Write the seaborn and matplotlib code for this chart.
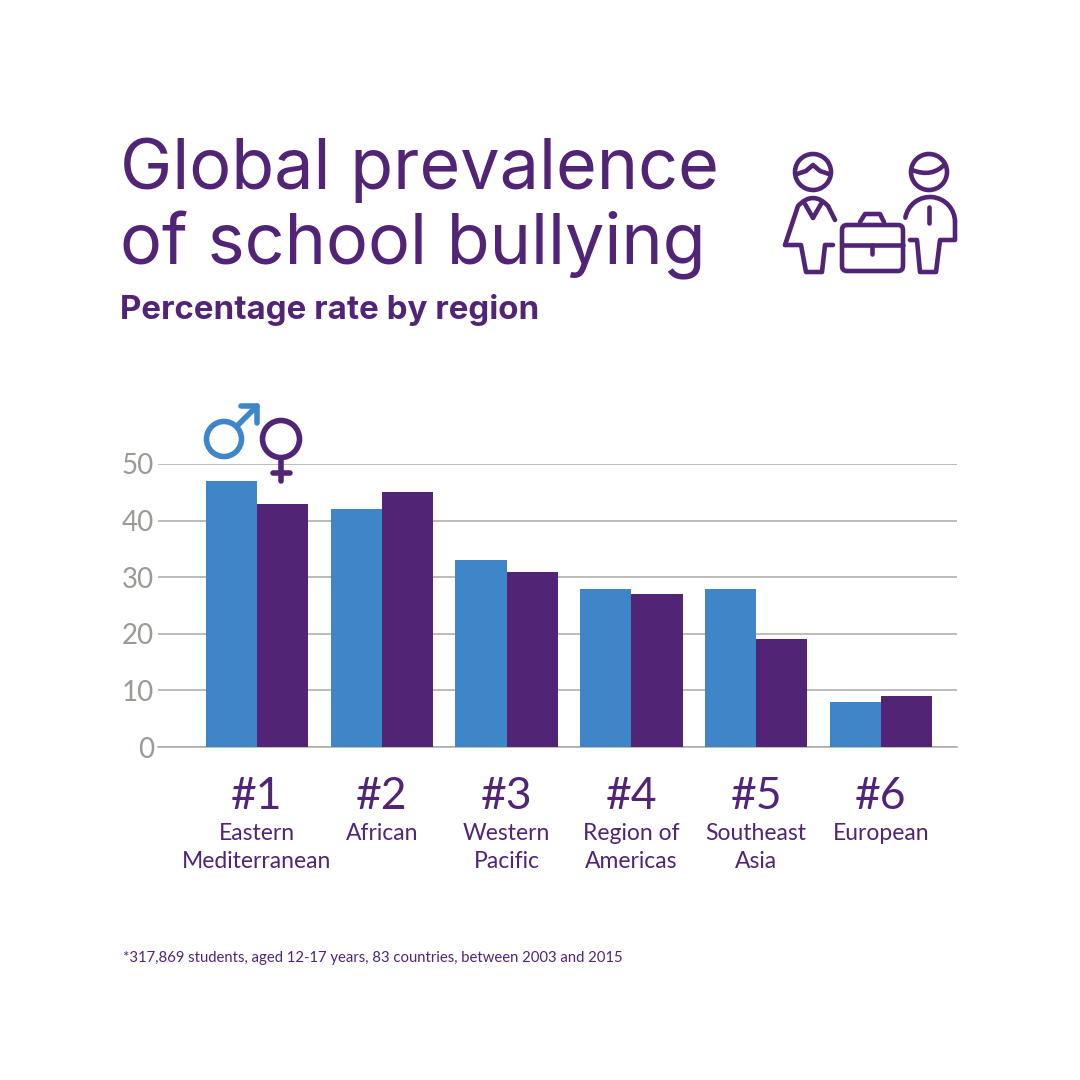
import pandas as pd
import matplotlib.pyplot as plt
import seaborn as sns
from matplotlib.patches import Arc, Circle, FancyBboxPatch, PathPatch
from matplotlib.path import Path

# School bullying data
data = {
    "region": ["Eastern\nMediterranean", "African", "Western\nPacific", "Region of\nAmericas", "Southeast\nAsia", "European"] * 2,
    "gender": ["Male"] * 6 + ["Female"] * 6,
    "rate": [47, 42, 33, 28, 28, 8, 43, 45, 31, 27, 19, 9]
}

# Create DataFrame
bullying_df = pd.DataFrame(data)
regions = bullying_df['region'].unique()

# Colors
purple = "#512476"
blue = "#3f86c8"
grey = "#9b9a94"

sns.set_style("white")
plt.rcParams['font.family'] = ['Lato', 'DejaVu Sans']

# Visualization
fig = plt.figure(figsize=(10.8, 10.8), dpi=100)
ax = plt.axes([158 / 1080, 333 / 1080, 799 / 1080, 283 / 1080])
sns.barplot(data=bullying_df, x="region", y="rate", hue="gender", palette={"Male": blue, "Female": purple},
            width=0.82, saturation=1, legend=False, linewidth=0, zorder=3)
plt.xlim(-0.793, 5.609)
plt.ylim(0, 50)
plt.xlabel("")
plt.ylabel("")
plt.yticks(range(0, 51, 10), fontsize=20, color=grey)
plt.xticks(range(6), ["#1", "#2", "#3", "#4", "#5", "#6"], fontsize=32, color=purple)
plt.tick_params(axis='y', length=0, pad=3)
plt.tick_params(axis='x', length=0, pad=21)
plt.grid(axis='y', color="#a9a9a9", linewidth=1.1, zorder=0)
sns.despine(left=True, top=True, right=True)
ax.spines['bottom'].set_color("#a9a9a9")
ax.spines['bottom'].set_linewidth(1.1)

# Region names below the rank numbers
for i, region in enumerate(regions):
    plt.text(i, -13.5, region, fontsize=16.5, color=purple, ha='center', va='top', linespacing=1.36, clip_on=False)

# Overlay in pixels for the title and the icons
over = plt.axes([0, 0, 1, 1], facecolor='none')
plt.xlim(0, 1080)
plt.ylim(1080, 0)
plt.axis('off')

plt.text(120, 189, "Global prevalence", fontsize=50.5, color=purple, family="Inter", va='baseline')
plt.text(120, 264, "of school bullying", fontsize=50.5, color=purple, family="Inter", va='baseline')
plt.text(120, 319, "Percentage rate by region", fontsize=23.8, color=purple, family="Inter", fontweight="bold", va='baseline')
plt.text(123, 962, "*317,869 students, aged 12-17 years, 83 countries, between 2003 and 2015", fontsize=10.7, color=purple, va='baseline')

# Male and female symbols
style = dict(color=blue, linewidth=4, solid_capstyle='round', solid_joinstyle='round')
over.add_patch(Circle((224, 439), 17.5, fill=False, edgecolor=blue, linewidth=4))
plt.plot([237, 257], [426, 406], **style)
plt.plot([241, 257, 257], [406, 406, 423], **style)
style["color"] = purple
over.add_patch(Circle((281, 439), 18.5, fill=False, edgecolor=purple, linewidth=4))
plt.plot([281, 281], [458, 481], **style)
plt.plot([273, 290], [473, 473], **style)

# Woman icon
style["linewidth"] = 3.3
over.add_patch(Circle((813, 172), 18, fill=False, edgecolor=purple, linewidth=3.3))
plt.plot([797, 806, 813, 820, 829], [174, 171, 165, 171, 174], **style)
over.add_patch(PathPatch(Path([(785, 245), (798, 206), (813, 190), (828, 206), (835, 220)],
                              [Path.MOVETO, Path.LINETO, Path.CURVE3, Path.CURVE3, Path.LINETO]),
                         fill=False, edgecolor=purple, linewidth=3.3, capstyle='round'))
plt.plot([805, 813, 821], [204, 218, 204], **style)
plt.plot([785, 801, 806, 822, 825, 833], [245, 245, 272, 272, 245, 245], **style)

# Man icon
over.add_patch(Circle((929, 172), 18, fill=False, edgecolor=purple, linewidth=3.3))
over.add_patch(PathPatch(Path([(912, 170), (932, 178), (945, 164)], [Path.MOVETO, Path.CURVE3, Path.CURVE3]),
                         fill=False, edgecolor=purple, linewidth=3.3, capstyle='round'))
over.add_patch(Arc((930, 222), 50, 50, theta1=190, theta2=360, edgecolor=purple, linewidth=3.3, capstyle='round'))
plt.plot([955, 955, 940, 936, 920, 917, 910], [222, 240, 240, 272, 272, 240, 240], **style)
plt.plot([929, 929], [207, 223], **style)

# Briefcase icon
over.add_patch(FancyBboxPatch((842, 225), 61, 46, boxstyle="round,pad=0,rounding_size=5", fill=False, edgecolor=purple, linewidth=3.3))
plt.plot([860, 865, 880, 884], [222, 214, 214, 222], **style)
plt.plot([842, 903], [245, 245], **style)
plt.plot([872, 872], [245, 254], **style)

plt.savefig("out.png", dpi=100)
